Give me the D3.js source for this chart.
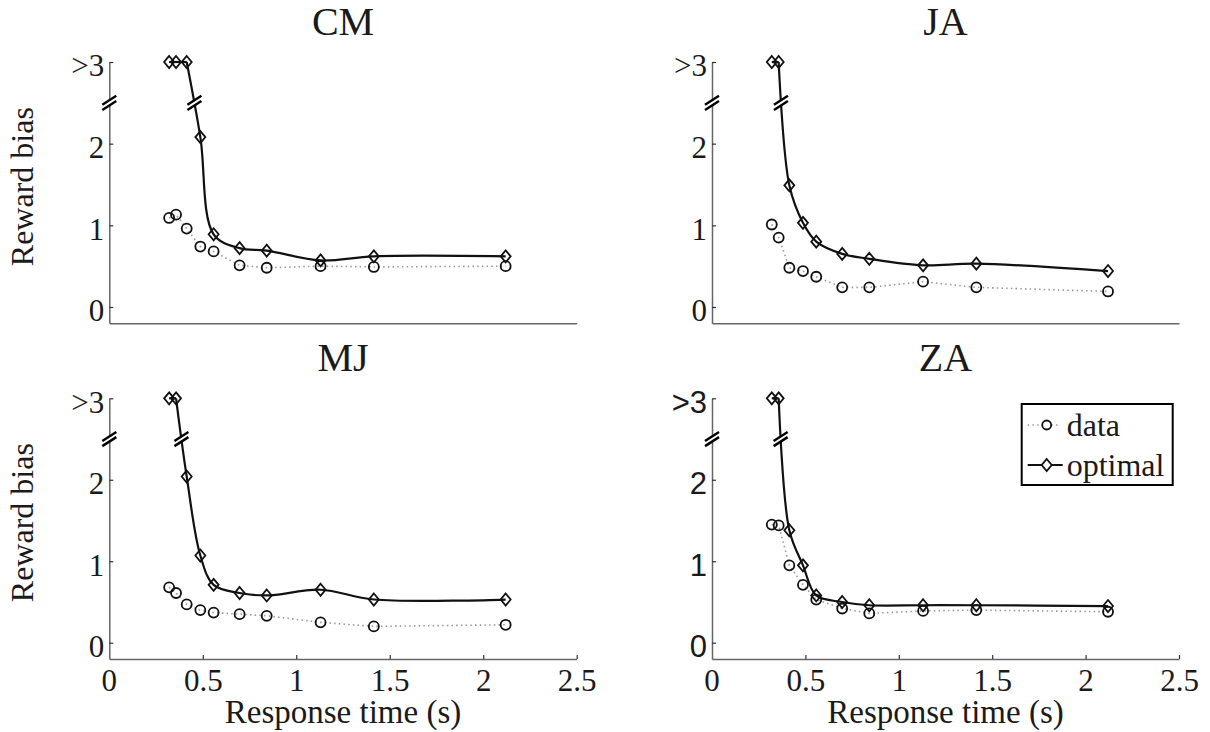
<!DOCTYPE html>
<html>
<head>
<meta charset="utf-8">
<script src="https://cdn.jsdelivr.net/npm/d3@7"></script>
<style>
  body { margin: 0; background: #fff; }
  svg { display: block; font-family: "Liberation Serif", "Times New Roman", serif; }
</style>
</head>
<body>
<div class="rb-chart"></div>
<script>
// response time bins (s), same deadlines for every subject
var rt = [0.32, 0.357, 0.414, 0.487, 0.558, 0.697, 0.842, 1.13, 1.415, 2.12];

// reward bias per subject; values above the break are shown at the cap (">3")
var dataCM = [1.09, 1.13, 0.96, 0.74, 0.68, 0.51, 0.48, 0.50, 0.49, 0.50],
    optCM  = [3, 3, 3, 2.08, 0.89, 0.72, 0.69, 0.57, 0.62, 0.62];
var dataJA = [1.01, 0.85, 0.48, 0.44, 0.37, 0.24, 0.24, 0.31, 0.24, 0.19],
    optJA  = [3, 3, 1.49, 1.03, 0.80, 0.65, 0.59, 0.51, 0.53, 0.44];
var dataMJ = [0.68, 0.61, 0.47, 0.40, 0.37, 0.35, 0.33, 0.25, 0.20, 0.22],
    optMJ  = [3, 3, 2.04, 1.07, 0.71, 0.61, 0.58, 0.65, 0.53, 0.53];
var dataZA = [1.45, 1.44, 0.95, 0.71, 0.53, 0.42, 0.36, 0.39, 0.40, 0.38],
    optZA  = [3, 3, 1.38, 0.95, 0.58, 0.50, 0.46, 0.46, 0.46, 0.45];

var subjects = ["CM", "JA", "MJ", "ZA"];
var yTicks = [0, 1, 2, 3],
    yTickLabels = ["0", "1", "2", ">3"];
var xTicks = [0, 0.5, 1, 1.5, 2, 2.5],
    xTickLabels = ["0", "0.5", "1", "1.5", "2", "2.5"];
var yCap = 3, yBreak = 2.5;
var legendLabels = ["data", "optimal"];

// layout
var width = 1210, height = 732,
    cols = [[109.3, 576.7], [712, 1179]],
    rows = [[323.3, 62], [659, 398.3]],
    ink = "#1a1a1a",
    axisColor = "#666",
    serif = "'Liberation Serif', 'Times New Roman', serif";

var svg = d3.select(".rb-chart")
  .append("svg")
    .attr("width", width)
    .attr("height", height);

var diamond = "M0,-6L5,0L0,6L-5,0Z";

// two slashes with a white gap, marks the break in the y scale
function breakMark(g, cx, cy) {
    g.append("line")
        .attr("x1", cx - 6).attr("y1", cy + 4)
        .attr("x2", cx + 6).attr("y2", cy - 4)
        .attr("stroke", "#fff")
        .attr("stroke-width", 4);
    [-2.6, 2.6].forEach(function(off) {
        g.append("line")
            .attr("x1", cx - 7).attr("y1", cy + off + 4.5)
            .attr("x2", cx + 7).attr("y2", cy + off - 4.5)
            .attr("stroke", "#000")
            .attr("stroke-width", 2.4);
    });
}

function drawPanel(i, data, opt) {
    var col = i % 2, row = Math.floor(i / 2),
        name = subjects[i];

    var xScale = d3.scaleLinear().domain([0, 2.5]).range(cols[col]),
        yScale = d3.scaleLinear().domain([-0.2, yCap]).range(rows[row]);

    var g = svg.append("g");

    // y axis (ZA's tick labels came out in a sans face)
    var yAxis = d3.axisLeft(yScale)
        .tickValues(yTicks)
        .tickFormat(function(d, k) { return yTickLabels[k]; })
        .tickSize(-4)
        .tickSizeOuter(0)
        .tickPadding(5);
    var ya = g.append("g")
        .attr("transform", "translate(" + xScale(0) + ",0)")
        .call(yAxis)
        .attr("font-family", name == "ZA" ? "'Liberation Sans', Arial, sans-serif" : serif)
        .attr("font-size", 31);
    ya.select(".domain").attr("stroke", axisColor).attr("stroke-width", 1.5);
    ya.selectAll(".tick line").attr("stroke", "#333").attr("stroke-width", 1.2);
    ya.selectAll(".tick text")
        .attr("dy", "0.45em")
        .attr("fill", ink);

    // x axis, labelled only on the bottom row
    var xAxis = d3.axisBottom(xScale)
        .tickValues(row == 1 ? xTicks.slice(1) : [])
        .tickFormat(function(d) { return xTickLabels[xTicks.indexOf(d)]; })
        .tickSize(-4)
        .tickSizeOuter(0)
        .tickPadding(10);
    var xa = g.append("g")
        .attr("transform", "translate(0," + yScale(-0.2) + ")")
        .call(xAxis)
        .attr("font-family", serif)
        .attr("font-size", 31);
    xa.select(".domain").attr("stroke", axisColor).attr("stroke-width", 1.5);
    xa.selectAll(".tick line").attr("stroke", "#333").attr("stroke-width", 1.2);
    xa.selectAll(".tick text").attr("fill", ink);
    if (row == 1) {
        // the 0 label sits under the y axis
        xa.append("text")
            .attr("x", xScale(0))
            .attr("y", 10)
            .attr("dy", "0.71em")
            .attr("text-anchor", "middle")
            .attr("fill", ink)
            .text(xTickLabels[0]);

        g.append("text")
            .attr("x", (cols[col][0] + cols[col][1]) / 2)
            .attr("y", 723)
            .attr("text-anchor", "middle")
            .attr("fill", ink)
            .style("font-size", "33px")
            .text("Response time (s)");
    }
    if (col == 0) {
        var mid = (rows[row][0] + rows[row][1]) / 2 - 6;
        g.append("text")
            .attr("transform", "translate(33," + mid + ") rotate(-90)")
            .attr("text-anchor", "middle")
            .attr("fill", ink)
            .style("font-size", "32px")
            .text("Reward bias");
    }

    // title
    g.append("text")
        .attr("x", (cols[col][0] + cols[col][1]) / 2)
        .attr("y", row == 0 ? 35 : 371)
        .attr("text-anchor", "middle")
        .attr("fill", ink)
        .style("font-size", "40px")
        .text(name);

    var px = function(d, k) { return xScale(rt[k]); },
        py = function(d) { return yScale(Math.min(d, yCap)); };

    // data: dotted line with open circles
    g.append("path")
        .datum(data)
        .attr("d", d3.line().x(px).y(py))
        .attr("fill", "none")
        .attr("stroke", "#999")
        .attr("stroke-width", 1.6)
        .attr("stroke-dasharray", "1.5,3.2");
    g.selectAll(".dot")
        .data(data)
      .enter().append("circle")
        .attr("class", "dot")
        .attr("cx", px)
        .attr("cy", py)
        .attr("r", 5)
        .attr("fill", "none")
        .attr("stroke", "#111")
        .attr("stroke-width", 1.8);

    // optimal: straight along the capped points, smooth from the last capped point on
    var last = 0;
    opt.forEach(function(d, k) { if (d >= yCap) last = k; });
    var capped = opt.map(function(d, k) { return k <= last ? d : null; }),
        rest = opt.map(function(d, k) { return k >= last ? d : null; });
    g.append("path")
        .datum(capped)
        .attr("d", d3.line().defined(function(d) { return d != null; }).x(px).y(py))
        .attr("fill", "none")
        .attr("stroke", "#111")
        .attr("stroke-width", 2.2);
    var optPath = g.append("path")
        .datum(rest.map(function(d, k) { return [rt[k], d]; }).filter(function(d) { return d[1] != null; }))
        .attr("d", d3.line()
            .curve(d3.curveCatmullRom.alpha(0.5))
            .x(function(d) { return xScale(d[0]); })
            .y(function(d) { return yScale(Math.min(d[1], yCap)); }))
        .attr("fill", "none")
        .attr("stroke", "#111")
        .attr("stroke-width", 2.2);
    g.selectAll(".dia")
        .data(opt)
      .enter().append("path")
        .attr("class", "dia")
        .attr("d", diamond)
        .attr("transform", function(d, k) {
            return "translate(" + px(d, k) + "," + py(d) + ")";
        })
        .attr("fill", "none")
        .attr("stroke", "#111")
        .attr("stroke-width", 1.8);

    // break marks on the axis and where the optimal line crosses the break
    var yb = yScale(yBreak);
    breakMark(g, xScale(0), yb);
    var node = optPath.node(), len = node.getTotalLength(), pt = null;
    for (var s = 0; s <= len; s += 0.25) {
        var p = node.getPointAtLength(s);
        if (p.y >= yb) { pt = p; break; }
    }
    if (pt) breakMark(g, pt.x, yb);

    return g;
}

var panels = [
    drawPanel(0, dataCM, optCM),
    drawPanel(1, dataJA, optJA),
    drawPanel(2, dataMJ, optMJ),
    drawPanel(3, dataZA, optZA)
];

// legend in the ZA panel
var leg = panels[3].append("g").attr("transform", "translate(1021.7,404)");
leg.append("rect")
    .attr("width", 151).attr("height", 81)
    .attr("fill", "#fff")
    .attr("stroke", "#000")
    .attr("stroke-width", 2);
var legY = [21, 61];
leg.append("line")
    .attr("x1", 6).attr("x2", 38).attr("y1", legY[0]).attr("y2", legY[0])
    .attr("stroke", "#999").attr("stroke-width", 1.6).attr("stroke-dasharray", "1.5,3.2");
leg.append("circle")
    .attr("cx", 25).attr("cy", legY[0]).attr("r", 4.5)
    .attr("fill", "#fff").attr("stroke", "#111").attr("stroke-width", 1.8);
leg.append("line")
    .attr("x1", 6).attr("x2", 41).attr("y1", legY[1]).attr("y2", legY[1])
    .attr("stroke", "#111").attr("stroke-width", 2.2);
leg.append("path")
    .attr("d", diamond)
    .attr("transform", "translate(25," + legY[1] + ")")
    .attr("fill", "#fff").attr("stroke", "#111").attr("stroke-width", 1.8);
leg.selectAll(".lbl")
    .data(legendLabels)
  .enter().append("text")
    .attr("class", "lbl")
    .attr("x", 45)
    .attr("y", function(d, k) { return legY[k] + 11; })
    .attr("fill", ink)
    .style("font-size", "32px")
    .text(function(d) { return d; });
</script>
</body>
</html>
